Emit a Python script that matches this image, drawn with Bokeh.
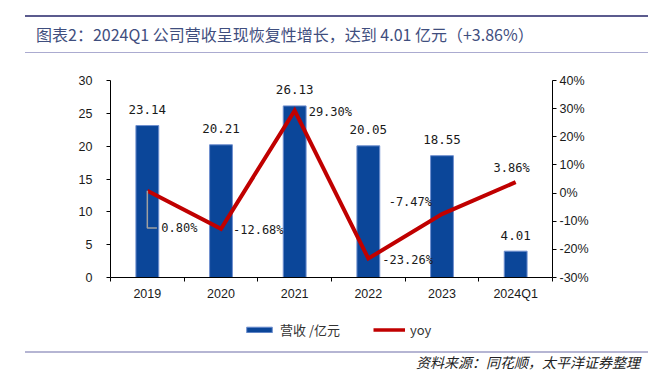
from bokeh.plotting import figure
from bokeh.layouts import column
from bokeh.models import (Range1d, LinearAxis, FixedTicker, PrintfTickFormatter,
                          Legend, LegendItem, ColumnDataSource, Div)
from bokeh.core.properties import value
from bokeh.embed import file_html
from bokeh.resources import INLINE

# ---------------- data ----------------
years = ["2019", "2020", "2021", "2022", "2023", "2024Q1"]
revenue = [23.14, 20.21, 26.13, 20.05, 18.55, 4.01]          # 营收 /亿元
yoy = [0.80, -12.68, 29.30, -23.26, -7.47, 3.86]             # yoy, %
left_ticks = [0, 5, 10, 15, 20, 25, 30]
right_ticks = [-30, -20, -10, 0, 10, 20, 30, 40]
title_text = "图表2：2024Q1 公司营收呈现恢复性增长，达到 4.01 亿元（+3.86%）"
source_text = "资料来源：同花顺，太平洋证券整理"
legend_labels = ["营收 /亿元", "yoy"]

# ---------------- layout / style ----------------
yoy_label_style = [(14, 37, "left"), (12, 1, "left"), (14, 1, "left"),
                   (14, 1, "left"), (-10, -12, "right"), (-4, -14, "center")]

BAR = "#0b4699"
BAR_EDGE = "#6f8fcf"
RED = "#c00000"
CJK = "Noto Sans CJK SC"
W = 648
HEAD_H = 54
FL, FR, FT, FB = 110, 96, 26, 26
FW, FH = 442, 197
MAIN_H = FT + FH + FB
LEG_H = 42
FOOT_H = 379 - HEAD_H - MAIN_H - LEG_H

centers = [i + 0.5 for i in range(len(years))]

# ---------------- header ----------------
head_html = (
    f'<div style="position:relative;width:{W}px;height:{HEAD_H}px;overflow:hidden;">'
    '<div style="position:absolute;left:25px;right:0;top:15px;height:2px;background:#5b5b8e;"></div>'
    f'<div style="position:absolute;left:36px;top:23px;height:22px;line-height:22px;white-space:nowrap;'
    f'font-family:\'{CJK}\';font-size:16px;color:#3f4e7e;">{title_text}</div>'
    '<div style="position:absolute;left:25px;right:0;top:52px;height:1px;background:#ababd0;"></div>'
    '</div>'
)
head = Div(text=head_html, width=W, height=HEAD_H, margin=0)

# ---------------- main chart ----------------
p = figure(width=W, height=MAIN_H, frame_width=FW, frame_height=FH,
           min_border_left=FL, min_border_right=FR, min_border_top=FT, min_border_bottom=FB,
           x_range=Range1d(0, len(years)), y_range=Range1d(left_ticks[0], left_ticks[-1]),
           output_backend="svg", toolbar_location=None, x_axis_type=None, y_axis_type=None)
p.outline_line_color = None
p.background_fill_color = "white"
p.border_fill_color = "white"
p.extra_y_ranges = {"yoy": Range1d(right_ticks[0], right_ticks[-1])}


def style_axis(ax):
    ax.axis_line_color = "#000000"
    ax.axis_line_width = 1
    ax.major_tick_line_color = "#000000"
    ax.minor_tick_line_color = "#000000"
    ax.major_label_text_font = "Liberation Sans"
    ax.major_label_text_font_size = "12.5px"
    ax.major_label_text_color = "#1a1a1a"


la = LinearAxis(ticker=FixedTicker(ticks=left_ticks))
style_axis(la)
la.major_tick_in = 0
la.major_tick_out = 4
la.major_label_standoff = 14
p.add_layout(la, "left")

ra = LinearAxis(y_range_name="yoy", ticker=FixedTicker(ticks=right_ticks),
                formatter=PrintfTickFormatter(format="%d%%"))
style_axis(ra)
ra.major_tick_in = 0
ra.major_tick_out = 4
ra.major_label_standoff = 3
p.add_layout(ra, "right")

overrides = {c: y for c, y in zip(centers, years)}
ba = LinearAxis(ticker=FixedTicker(ticks=centers, minor_ticks=list(range(len(years) + 1))))
style_axis(ba)
ba.major_label_overrides = overrides
ba.major_tick_in = 0
ba.major_tick_out = 0
ba.minor_tick_in = 0
ba.minor_tick_out = 4
ba.major_label_standoff = 5
p.add_layout(ba, "below")

p.xgrid.visible = False
p.ygrid.visible = False

p.vbar(x=centers, top=revenue, width=0.31, fill_color=BAR, line_color=BAR_EDGE, line_width=1)
p.text(x=centers, y=revenue, text=[f"{v:.2f}" for v in revenue],
       text_font=value("DejaVu Sans Mono"), text_font_size="12.5px", text_color="#1a1a1a",
       text_align="center", text_baseline="middle", y_offset=-16)

p.line(x=centers, y=yoy, y_range_name="yoy", line_color=RED, line_width=4, line_join="miter")

src = ColumnDataSource(dict(x=centers, y=yoy, t=[f"{v:.2f}%" for v in yoy],
                            xo=[s[0] for s in yoy_label_style],
                            yo=[s[1] for s in yoy_label_style],
                            al=[s[2] for s in yoy_label_style]))
p.text(x="x", y="y", text="t", source=src, y_range_name="yoy",
       x_offset="xo", y_offset="yo", text_align="al", text_baseline="middle",
       text_font=value("DejaVu Sans Mono"), text_font_size="12px", text_color="#1a1a1a")

drop, run = 13.2, 0.13
p.line(x=[centers[0], centers[0], centers[0] + run],
       y=[yoy[0], yoy[0] - drop, yoy[0] - drop], y_range_name="yoy",
       line_color="#a0a0a0", line_width=1.5)

# ---------------- legend strip ----------------
# the same series are drawn here, but out of this strip's visible y range, so only the legend shows
lf = figure(width=W, height=LEG_H, frame_width=FW, frame_height=LEG_H,
            min_border_left=FL, min_border_right=FR, min_border_top=0, min_border_bottom=0,
            x_range=Range1d(0, len(years)), y_range=Range1d(1000, 1001),
            output_backend="svg", toolbar_location=None, x_axis_type=None, y_axis_type=None)
lf.outline_line_color = None
lf.xgrid.visible = False
lf.ygrid.visible = False
leg_bar = lf.vbar(x=centers, top=revenue, width=0.31, fill_color=BAR, line_color=BAR_EDGE, line_width=1)
leg_line = lf.line(x=centers, y=yoy, line_color=RED, line_width=3.5)
legend = Legend(items=[LegendItem(label=legend_labels[0], renderers=[leg_bar]),
                       LegendItem(label=legend_labels[1], renderers=[leg_line])],
                orientation="horizontal", location=(133, 6),
                glyph_width=32, glyph_height=7, spacing=33, padding=0, margin=0,
                label_standoff=5, border_line_color=None, background_fill_alpha=0,
                label_text_font=CJK, label_text_font_size="13px", label_text_color="#333333")
lf.add_layout(legend, "center")

# ---------------- footer ----------------
foot_html = (
    f'<div style="position:relative;width:{W}px;height:{FOOT_H}px;overflow:hidden;">'
    '<div style="position:absolute;left:25px;right:0;top:6px;height:2px;background:#b5b5d3;"></div>'
    f'<div style="position:absolute;right:8px;top:7px;height:20px;line-height:20px;white-space:nowrap;'
    f'font-family:\'{CJK}\';font-size:14px;font-style:italic;color:#222222;">{source_text}</div>'
    '</div>'
)
foot = Div(text=foot_html, width=W, height=FOOT_H, margin=0)

layout = column(head, p, lf, foot, spacing=0)
open("out.html", "w").write(file_html(layout, INLINE))
